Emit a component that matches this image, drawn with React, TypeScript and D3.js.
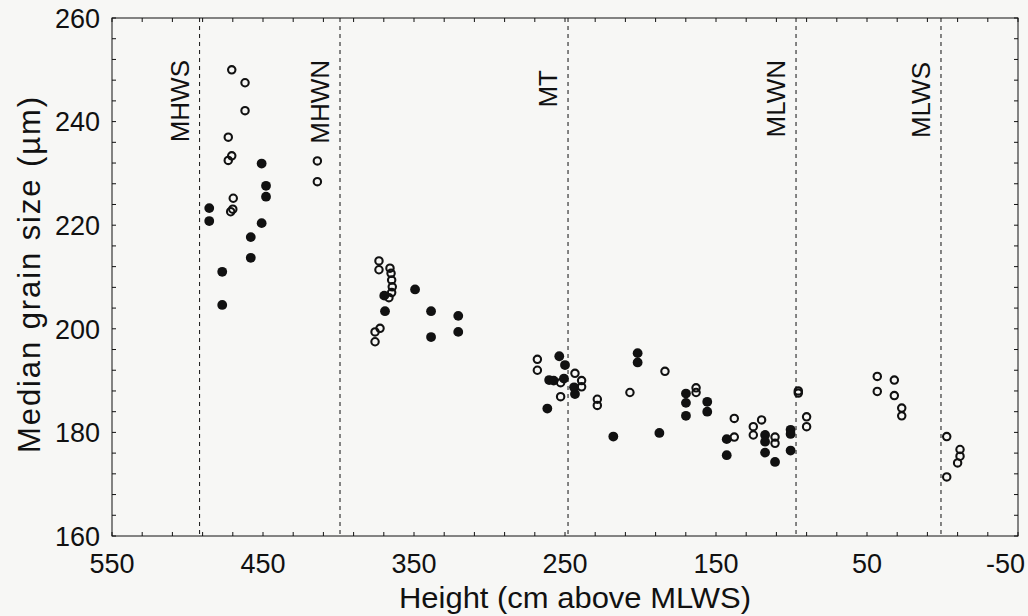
import React from "react";
import * as d3 from "d3";

// Height (cm above MLWS), median grain size (µm)
const openX = [470.7, 461.9, 461.9, 473, 470.7, 473, 469.7, 470, 471.4, 414, 414,
  373.2, 373.2, 365.9, 365.2, 364.8, 364.4, 364.8, 366.6, 372.5, 375.8, 375.8,
  268.3, 268.3, 252.9, 243.4, 239, 239, 252.9, 228.6, 228.6, 207, 183.8, 163.2, 163.2,
  137.9, 137.9, 125.3, 125.3, 119.8, 110.9, 110.9, 95.5, 95.5, 90, 90,
  43.2, 43.2, 31.9, 31.9, 27, 27,
  -2.8, -11.6, -11.6, -10, -2.8];
const openY = [250, 247.5, 242.1, 237, 233.4, 232.5, 225.2, 223.1, 222.6, 232.4, 228.4,
  213.1, 211.4, 211.7, 210.7, 209.4, 208.1, 207.0, 206.0, 200.1, 199.4, 197.5,
  194.1, 192.0, 189.6, 191.4, 190, 188.8, 186.9, 186.4, 185.2, 187.7, 191.8, 188.6, 187.7,
  182.7, 179.1, 181.1, 179.5, 182.4, 179.1, 177.9, 188, 187.6, 183, 181.1,
  190.8, 187.9, 190.1, 187.1, 184.7, 183.2,
  179.2, 176.7, 175.4, 174.1, 171.4];

const filledX = [485.6, 485.6, 477, 477, 458.1, 458.1, 450.9, 448, 448, 450.9,
  369.7, 349.3, 369.2, 338.7, 320.7, 338.7, 320.7,
  253.8, 250, 260.5, 257.5, 250.7, 244, 243.4, 261.7, 218, 201.9, 201.9, 187.5,
  169.9, 169.9, 169.9, 155.8, 155.8,
  142.9, 142.9, 117.5, 117.5, 117.5, 110.9, 100.6, 100.6, 100.6];
const filledY = [223.3, 220.8, 211, 204.6, 217.7, 213.7, 231.9, 227.6, 225.5, 220.4,
  206.4, 207.6, 203.4, 203.4, 202.5, 198.4, 199.4,
  194.7, 193, 190.1, 190.0, 190.4, 188.7, 187.4, 184.6, 179.2, 195.3, 193.5, 179.9,
  187.5, 185.7, 183.2, 185.9, 184,
  178.7, 175.6, 179.5, 178.2, 176.1, 174.3, 180.5, 179.7, 176.5];

const tideNames = ["MHWS", "MHWN", "MT", "MLWN", "MLWS"];
const tideLevels = [492, 399, 248, 97, 1];

const xTicks = [550, 450, 350, 250, 150, 50, -50];
const yTicks = [160, 180, 200, 220, 240, 260];

const W = 1028, H = 616;
const M = { left: 112, right: 10, top: 18, bottom: 80 };
const FONT = "'Liberation Sans', Arial, sans-serif";

export default function App() {
  const x = d3.scaleLinear().domain([550, -50]).range([M.left, W - M.right]);
  const y = d3.scaleLinear().domain([160, 260]).range([H - M.bottom, M.top]);
  const x0 = M.left, x1 = W - M.right, y0 = M.top, y1 = H - M.bottom;
  const xMinor = d3.range(-50, 551, 20);
  const yMinor = d3.range(160, 261, 4);
  const ink = "#111";
  const tideLabelTop = [60, 60, 70, 60, 62];

  return (
    <svg width={W} height={H} style={{ position: "absolute", left: 0, top: 0, background: "#f7f7f5" }}>
      <rect x={0} y={0} width={W} height={H} fill="#f7f7f5" />
      {/* frame */}
      <rect x={x0} y={y0} width={x1 - x0} height={y1 - y0} fill="none" stroke={ink} strokeWidth={1} />
      {/* ticks inside on all four sides */}
      {xMinor.map((v) => (
        <g key={"xt" + v}>
          <line x1={x(v)} x2={x(v)} y1={y1} y2={y1 - 4} stroke={ink} strokeWidth={1} />
          <line x1={x(v)} x2={x(v)} y1={y0} y2={y0 + 4} stroke={ink} strokeWidth={1} />
        </g>
      ))}
      {yMinor.map((v) => (
        <g key={"yt" + v}>
          <line x1={x0} x2={x0 + 4} y1={y(v)} y2={y(v)} stroke={ink} strokeWidth={1} />
          <line x1={x1} x2={x1 - 4} y1={y(v)} y2={y(v)} stroke={ink} strokeWidth={1} />
        </g>
      ))}
      {/* tide level lines */}
      {tideLevels.map((v, i) => (
        <g key={"tide" + i}>
          <line x1={x(v)} x2={x(v)} y1={y0} y2={y1} stroke={ink} strokeWidth={1} strokeDasharray="4,4" />
          <text
            transform={`translate(${x(v) - 11},${tideLabelTop[i]}) rotate(-90)`}
            textAnchor="end"
            fontFamily={FONT}
            fontSize={26}
            fill={ink}
          >
            {tideNames[i]}
          </text>
        </g>
      ))}
      {/* points */}
      {filledX.map((v, i) => (
        <circle key={"f" + i} cx={x(v)} cy={y(filledY[i])} r={4.9} fill={ink} />
      ))}
      {openX.map((v, i) => (
        <circle key={"o" + i} cx={x(v)} cy={y(openY[i])} r={3.7} fill="none" stroke={ink} strokeWidth={2.1} />
      ))}
      {/* tick labels */}
      {xTicks.map((v, i) => {
        const last = i === xTicks.length - 1;
        return (
          <text
            key={"xl" + v}
            x={last ? W - 3 : x(v)}
            y={573}
            textAnchor={last ? "end" : "middle"}
            fontFamily={FONT}
            fontSize={27}
            fill={ink}
          >
            {v}
          </text>
        );
      })}
      {yTicks.map((v) => (
        <text key={"yl" + v} x={100} y={y(v)} dy="0.36em" textAnchor="end" fontFamily={FONT} fontSize={27} fill={ink}>
          {v}
        </text>
      ))}
      {/* axis titles */}
      <text x={575} y={608} textAnchor="middle" fontFamily={FONT} fontSize={29} textLength={352} lengthAdjust="spacingAndGlyphs" fill={ink}>
        Height (cm above MLWS)
      </text>
      <text transform={`translate(40,${275}) rotate(-90)`} textAnchor="middle" fontFamily={FONT} fontSize={31} textLength={356} lengthAdjust="spacing" fill={ink}>
        Median grain size (µm)
      </text>
    </svg>
  );
}
